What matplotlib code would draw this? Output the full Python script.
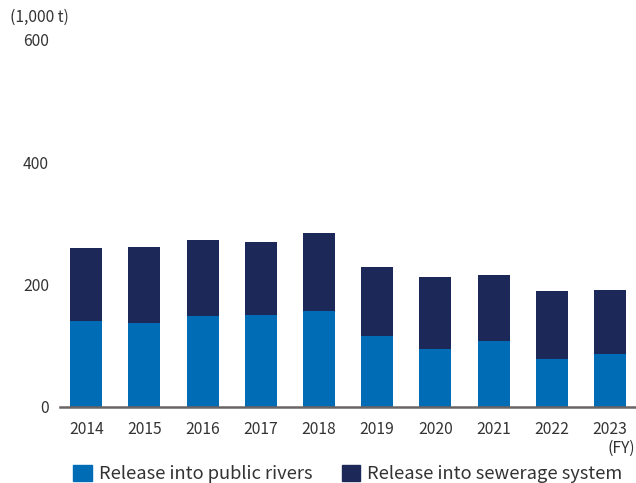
import matplotlib.pyplot as plt
from matplotlib.patches import Patch

plt.rcParams['font.family'] = ['Noto Sans CJK JP', 'DejaVu Sans']

years = ['2014', '2015', '2016', '2017', '2018', '2019', '2020', '2021', '2022', '2023']
rivers = [140, 137, 149, 150, 157, 116, 95, 108, 78, 86]
sewerage = [120, 125, 123, 120, 128, 113, 118, 108, 112, 105]

c_rivers = '#006cb5'
c_sewer = '#1c2857'
txt = '#333333'

fig = plt.figure(figsize=(6.36, 4.83), dpi=100)
ax = fig.add_axes([60/636, 1 - 406.7/483, 575/636, 366.7/483])

x = range(len(years))
ax.bar(x, rivers, width=0.55, color=c_rivers, zorder=2)
ax.bar(x, sewerage, bottom=rivers, width=0.55, color=c_sewer, zorder=2)

ax.set_xlim(-0.45, 9.43)
ax.set_ylim(0, 600)
ax.set_yticks([0, 200, 400, 600])
ax.set_xticks(list(x))
ax.set_xticklabels(years)
ax.tick_params(axis='both', length=0, labelsize=11.3, colors=txt)
ax.tick_params(axis='y', pad=8)
ax.tick_params(axis='x', pad=10)
for s in ['left', 'right', 'top']:
    ax.spines[s].set_visible(False)
ax.spines['bottom'].set_color('#6b6464')
ax.spines['bottom'].set_linewidth(1.8)
ax.spines['bottom'].set_zorder(3)

fig.text(10/636, 1 - 17/483, '(1,000 t)', fontsize=11.3, color=txt, ha='left', va='center')
fig.text(635/636, 1 - 448/483, '(FY)', fontsize=11.3, color=txt, ha='right', va='center')

handles = [Patch(color=c_rivers, label='Release into public rivers'),
           Patch(color=c_sewer, label='Release into sewerage system')]
fig.legend(handles=handles, loc='center', bbox_to_anchor=(348/636, 1 - 474/483), ncol=2,
           frameon=False, fontsize=13.2, labelcolor=txt, handlelength=1.0, handleheight=1.0,
           handletextpad=0.4, columnspacing=1.6, borderpad=0)

fig.savefig('out.png', dpi=100)
